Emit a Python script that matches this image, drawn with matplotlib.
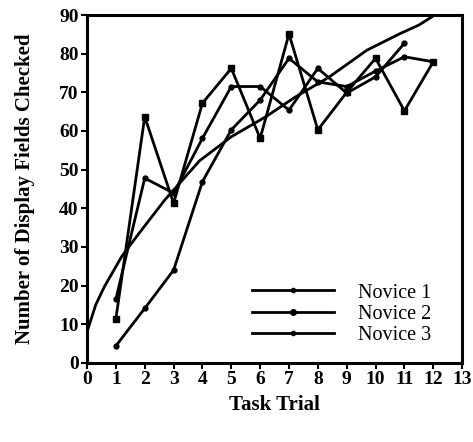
import matplotlib
matplotlib.use("Agg")
import matplotlib.pyplot as plt
from matplotlib.lines import Line2D

trials_1 = [1, 2, 3, 4, 5, 6, 7, 8, 9, 10, 11, 12]
novice_1 = [11.4, 63.7, 41.3, 67.2, 76.2, 58.1, 85.1, 60.3, 70.0, 78.8, 65.2, 77.9]
trials_2 = [1, 2, 3, 4, 5, 6, 7, 8, 9, 10, 11]
novice_2 = [16.5, 47.8, 43.9, 58.1, 71.5, 71.5, 65.4, 76.2, 69.8, 74.0, 82.7]
trials_3 = [1, 2, 3, 4, 5, 6, 7, 8, 9, 10, 11, 12]
novice_3 = [4.4, 14.1, 24.0, 46.9, 60.3, 68.0, 78.8, 72.7, 71.5, 75.5, 79.2, 77.9]

curve_x = [0, 0.3, 0.6, 1.2, 1.8, 2.7, 3.9, 5.0, 6.2, 7.2, 8.4, 9.7, 10.85, 11.5, 12.05]
curve_y = [8, 15, 19.7, 27.5, 33.5, 42.2, 52.3, 58.5, 63.7, 68.7, 74.0, 80.9, 85.2, 87.4, 90]

xticks = list(range(0, 14))
yticks = list(range(0, 91, 10))
legend_labels = ["Novice 1", "Novice 2", "Novice 3"]

serif = ["Liberation Serif", "DejaVu Serif"]

fig = plt.figure(figsize=(4.73, 4.42), dpi=100)
ax = fig.add_axes([0.184, 0.179, 0.793, 0.787])

lw = 2.0
ax.plot(curve_x, curve_y, color="black", lw=lw, solid_capstyle="round")
ax.plot(trials_1, novice_1, color="black", lw=lw, marker="s", ms=4.5)
ax.plot(trials_2, novice_2, color="black", lw=lw, marker="o", ms=3.5)
ax.plot(trials_3, novice_3, color="black", lw=lw, marker="o", ms=3.5)

ax.set_xlim(0, 13)
ax.set_ylim(0, 90)
ax.set_xticks(xticks)
ax.set_yticks(yticks)
for s in ax.spines.values():
    s.set_linewidth(2.2)
ax.tick_params(direction="out", length=4, width=1.5, pad=2)
for lab in ax.get_xticklabels() + ax.get_yticklabels():
    lab.set_family(serif)
    lab.set_fontsize(14)
    lab.set_fontweight("bold")

ax.set_xlabel("Task Trial", family=serif, fontsize=15, fontweight="bold", labelpad=5)
ax.set_ylabel("Number of Display Fields Checked", family=serif, fontsize=15,
              fontweight="bold", labelpad=17)

handles = [Line2D([], [], color="black", lw=lw, marker="o", ms=ms) for ms in (3, 4, 3)]
leg = ax.legend(handles, legend_labels, loc="lower right", bbox_to_anchor=(0.967, 0.0),
                frameon=False, handlelength=4.1, handletextpad=1.2, labelspacing=0.1,
                prop={"family": serif, "size": 14.5})

fig.savefig("out.png", dpi=100)
